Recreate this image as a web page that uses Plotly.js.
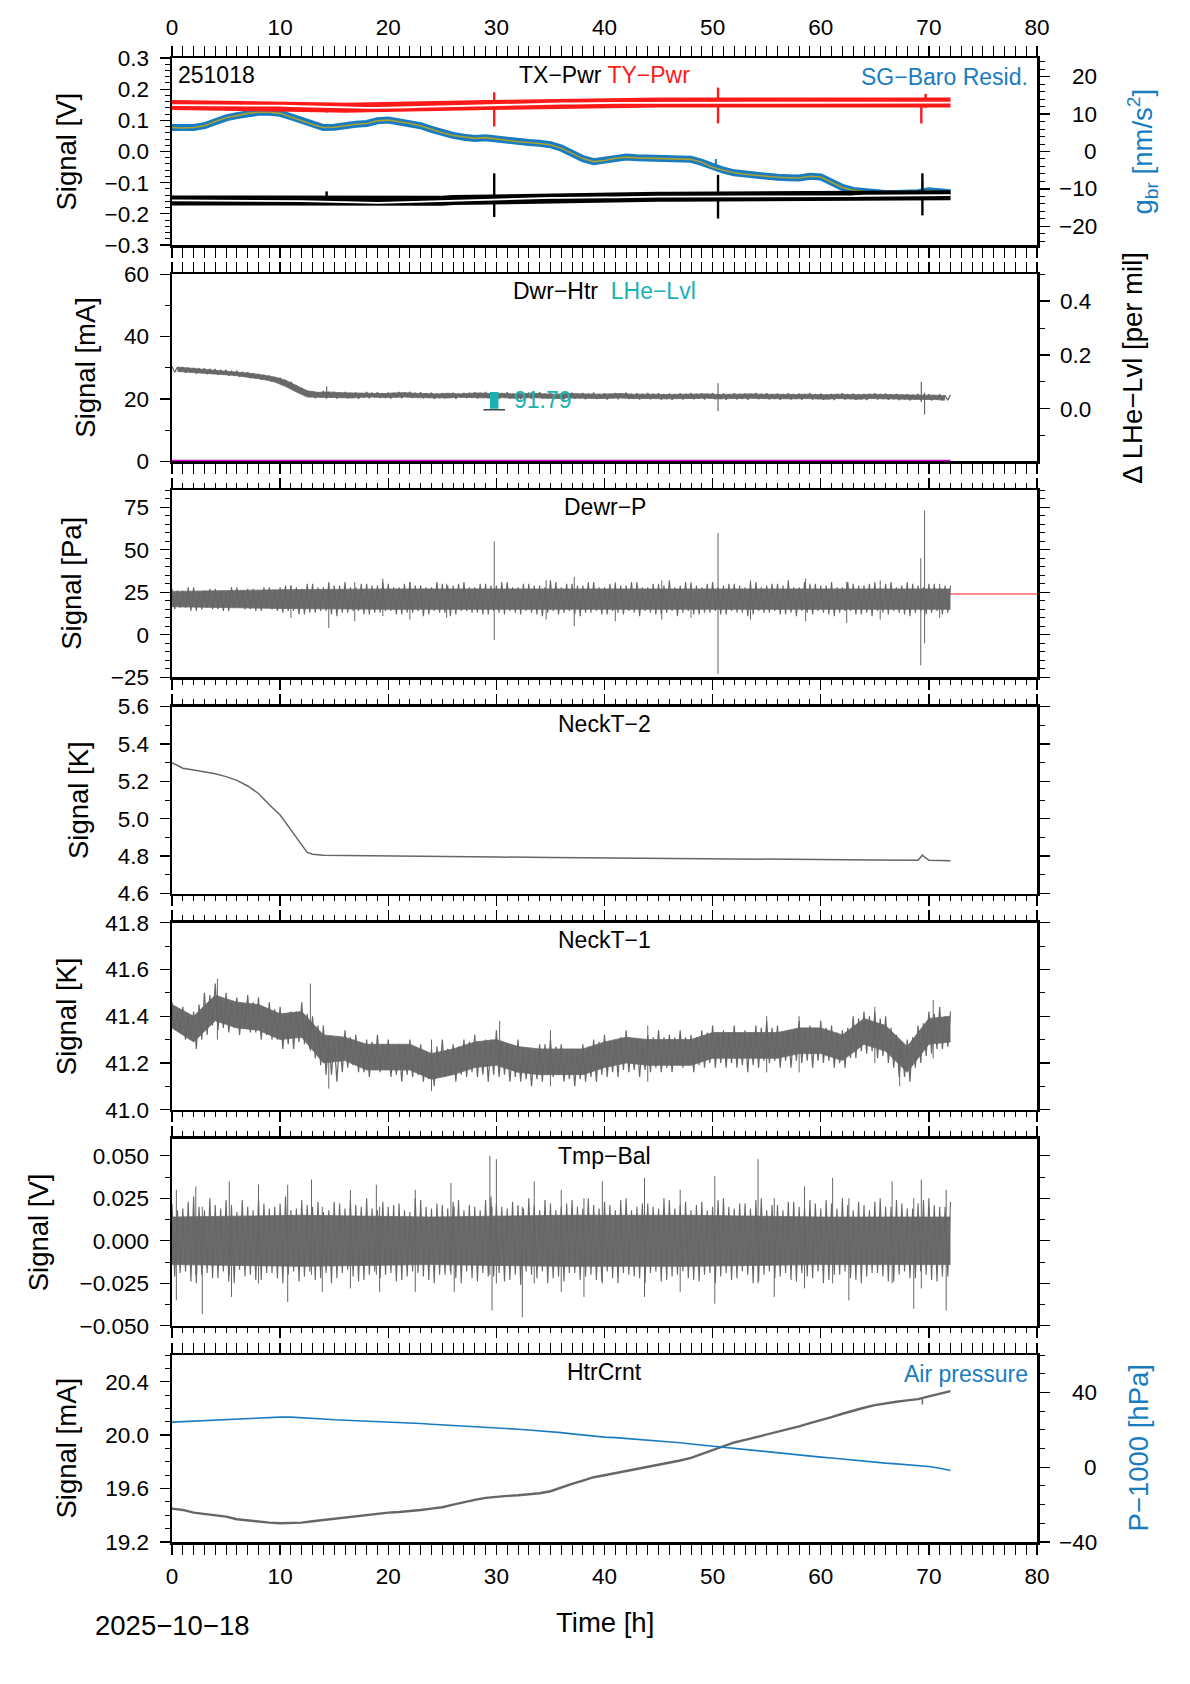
<!DOCTYPE html>
<html><head><meta charset="utf-8">
<script src="https://cdn.plot.ly/plotly-3.0.1.min.js"></script>
<style>body{margin:0;background:#fff}#plot{width:1190px;height:1684px}</style>
</head><body><div id="plot"></div>
<script>
// ---------------- data ----------------
const hours = [0,1,2,3,4,5,6,7,8,9,10,11,12,13,14,15,16,17,18,19,20,21,22,23,24,25,26,27,28,29,30,31,32,33,34,35,36,37,38,39,40,41,42,43,44,45,46,47,48,49,50,51,52,53,54,55,56,57,58,59,60,61,62,63,64,65,66,67,68,69,70,71,72];

// Panel 1: TX-Pwr / TY-Pwr [V], SG-Baro residual [nm/s^2]
const tyPwr = [0.149,0.149,0.149,0.149,0.149,0.149,0.148,0.148,0.148,0.147,0.147,0.146,0.145,0.143,0.142,0.141,0.140,0.140,0.140,0.140,0.140,0.141,0.142,0.143,0.144,0.145,0.146,0.147,0.148,0.149,0.150,0.151,0.151,0.152,0.152,0.153,0.154,0.154,0.155,0.155,0.155,0.156,0.156,0.156,0.156,0.157,0.157,0.157,0.157,0.157,0.157,0.158,0.158,0.158,0.158,0.158,0.158,0.158,0.158,0.158,0.158,0.158,0.157,0.157,0.157,0.157,0.157,0.157,0.157,0.157,0.157,0.157,0.157];
const txPwr = [-0.157,-0.157,-0.157,-0.157,-0.157,-0.157,-0.157,-0.157,-0.157,-0.157,-0.157,-0.158,-0.159,-0.160,-0.161,-0.163,-0.164,-0.165,-0.165,-0.165,-0.164,-0.163,-0.162,-0.160,-0.159,-0.158,-0.156,-0.155,-0.154,-0.153,-0.152,-0.151,-0.151,-0.150,-0.150,-0.149,-0.149,-0.148,-0.148,-0.148,-0.147,-0.147,-0.146,-0.146,-0.146,-0.145,-0.145,-0.145,-0.145,-0.145,-0.145,-0.144,-0.144,-0.144,-0.144,-0.144,-0.144,-0.144,-0.144,-0.144,-0.144,-0.143,-0.143,-0.143,-0.142,-0.142,-0.142,-0.142,-0.141,-0.141,-0.141,-0.140,-0.140];
const sgBaro = [6.4,6.3,6.4,6.9,8.0,9.0,9.6,10.2,10.5,10.5,10.2,9.3,8.2,7.2,6.4,6.5,7.0,7.3,7.5,8.2,8.4,8.0,7.5,6.9,5.9,5.0,4.3,3.8,3.5,3.7,3.3,2.8,2.6,2.4,2.2,1.8,0.9,-0.5,-1.9,-2.7,-2.4,-1.8,-1.5,-1.7,-1.8,-1.9,-2.0,-2.0,-2.1,-2.9,-4.2,-5.0,-5.7,-6.1,-6.4,-6.7,-6.9,-7.0,-7.1,-6.6,-6.8,-8.2,-9.6,-10.4,-10.8,-11.0,-11.2,-11.2,-11.3,-11.0,-10.5,-10.8,-11.0];
const gbrTicks = [-20,-10,0,10,20];
// spikes: [time h, top, bottom]
const tySpikes = [[14.3,0.150,0.125],[29.8,0.190,0.080],[50.5,0.205,0.090],[69.3,0.150,0.090],[69.7,0.185,0.140]];
const txSpikes = [[14.3,-0.128,-0.160],[29.8,-0.070,-0.210],[50.5,-0.075,-0.215],[69.4,-0.070,-0.205]];
const sgSpikes = [[50.3,-2.0,-5.0],[69.4,-8.0,-11.0]];

// Panel 2: Dwr-Htr [mA], LHe-Lvl [per mil]
const dwrHi  = [30.5,30.2,30.0,29.8,29.6,29.3,29.0,28.5,28.0,27.5,26.8,25.5,23.5,22.4,22.5,22.3,22.2,22.0,22.2,22.1,22.0,22.2,22.3,22.1,22.0,21.9,22.0,21.9,22.1,22.2,22.0,22.1,21.9,22.0,22.1,21.9,21.8,22.0,21.9,22.0,21.8,21.9,22.0,21.8,21.9,21.8,21.7,21.8,21.9,21.8,21.9,21.7,21.8,21.7,21.9,21.8,21.7,21.8,21.7,21.8,21.7,21.6,21.8,21.7,21.6,21.8,21.7,21.6,21.5,21.6,21.5,21.5,21.3];
const dwrHiH = [30.2,29.9,29.7,29.5,29.2,28.9,28.6,28.1,27.6,27.0,26.0,24.4,22.6,22.1,22.2,22.0,21.9,21.8,21.9,21.7,21.9,22.0,21.8,21.7,21.6,21.8,21.6,21.8,21.9,21.7,21.8,21.6,21.7,21.8,21.6,21.5,21.7,21.6,21.7,21.5,21.6,21.7,21.5,21.6,21.5,21.4,21.5,21.6,21.5,21.6,21.4,21.5,21.4,21.6,21.5,21.4,21.5,21.4,21.5,21.4,21.3,21.5,21.4,21.3,21.5,21.4,21.3,21.2,21.3,21.2,21.2,21.0];
const dwrLoA = [28.5,28.3,28.1,27.9,27.7,27.4,27.1,26.6,26.1,25.5,24.6,23.2,21.2,20.2,20.3,20.1,20.2,20.0,20.2,20.3,20.1,20.2,20.3,20.2,20.0,20.1,20.0,20.2,20.1,20.2,20.0,20.1,19.9,20.0,20.1,19.9,19.8,20.0,19.9,20.0,19.8,19.9,20.0,19.8,19.9,19.8,19.7,19.8,19.9,19.8,19.9,19.7,19.8,19.7,19.9,19.8,19.7,19.8,19.7,19.8,19.7,19.6,19.8,19.7,19.6,19.8,19.7,19.6,19.5,19.6,19.5,19.5];
const dwrLoB = [28.8,28.6,28.4,28.2,27.9,27.6,27.2,26.7,26.2,25.4,24.0,22.2,20.6,20.5,20.4,20.5,20.3,20.5,20.6,20.4,20.5,20.6,20.4,20.3,20.4,20.3,20.5,20.4,20.5,20.3,20.4,20.2,20.3,20.4,20.2,20.1,20.3,20.2,20.3,20.1,20.2,20.3,20.1,20.2,20.1,20.0,20.1,20.2,20.1,20.2,20.0,20.1,20.0,20.2,20.1,20.0,20.1,20.0,20.1,20.0,19.9,20.1,20.0,19.9,20.1,20.0,19.9,19.8,19.9,19.8,19.8,19.6];
const dwrSpikes = [[14.3,24.0,20.0],[50.5,25.0,16.0],[69.3,25.5,19.0],[69.6,22.0,15.0]];
const lheTime = [29.8], lheTop = [0.062], lheBottom = [0.0], lheLabel = ['91.79'];
const lheBase = [[28.8,30.8],[-0.004,-0.004]];
const heaterZero = [[0,72],[0,0]];
const lheTicks = [0.0,0.2,0.4];

// Panel 3: Dewr-P [Pa]
const dewHi  = [27,26,28,26,27,25,28,27,26,28,28,29,27,30,28,29,31,28,30,29,30,28,31,29,28,30,29,31,28,30,29,31,28,30,29,32,28,30,29,31,28,30,29,31,28,30,32,29,30,28,31,29,30,28,31,29,30,32,28,30,29,31,28,30,29,31,30,28,31,29,30,28,29];
const dewHiH = [26,28,25,27,26,28,26,27,28,26,29,28,30,28,31,29,28,30,29,31,28,30,29,28,31,29,30,28,30,29,31,28,30,29,28,31,30,29,31,28,30,29,31,28,30,29,28,31,29,30,28,30,29,31,28,30,29,28,31,30,29,28,31,29,30,28,31,29,30,28,30,29];
const dewLoA = [15,16,14,16,15,14,16,15,14,15,13,14,12,13,14,11,13,14,12,13,14,12,13,11,14,13,12,14,13,12,13,14,12,13,11,14,13,12,13,14,12,13,14,11,13,12,14,13,12,13,14,12,13,11,14,13,12,13,14,12,13,11,14,12,13,14,12,13,11,14,13,12];
const dewLoB = [16,14,15,15,14,16,15,14,16,14,14,12,13,14,12,13,14,12,13,14,12,13,14,12,13,11,14,13,12,14,12,13,14,12,13,12,14,11,13,12,14,12,13,14,12,13,11,14,12,13,12,14,13,12,13,14,12,11,13,14,12,13,14,12,11,13,14,12,13,12,14,13];
const dewCoreT = [0,10,20,30,40,50,60,72], dewCoreHi = [25.5,26.5,27,27,27,27,27,27], dewCoreLo = [16.5,15.5,15,15,15,15,15,15];
const dewSpikes = [[11,29,10],[14.5,26,4],[16.9,31,8],[19.5,33,11],[22,31,9],[25.4,30,10],[29.8,55,-3],[34.6,32,9],[37.2,34,5],[41,31,8],[45.3,32,9],[48,31,10],[50.5,60,-23],[53.5,32,9],[58.6,33,8],[62.4,31,7],[65.5,32,9],[69.25,45,-18],[69.6,73,-5],[71,30,10]];
const dewRef = [[0,80],[24,24]];

// Panel 4: NeckT-2 [K]
const neck2Time = [0,0.5,1,2,3,4,5,6,7,8,9,10,11,12,12.5,13,14,16,20,25,30,35,40,45,50,55,60,65,69,69.4,69.7,70,72];
const neck2 = [5.30,5.285,5.27,5.26,5.25,5.24,5.225,5.205,5.175,5.135,5.075,5.02,4.94,4.86,4.82,4.81,4.805,4.803,4.80,4.798,4.795,4.793,4.79,4.787,4.785,4.782,4.78,4.779,4.778,4.805,4.79,4.778,4.775];

// Panel 5: NeckT-1 [K]
const neck1Hi  = [41.46,41.44,41.42,41.50,41.54,41.50,41.48,41.49,41.48,41.46,41.44,41.42,41.46,41.40,41.36,41.30,41.34,41.32,41.30,41.32,41.30,41.28,41.30,41.28,41.26,41.30,41.28,41.30,41.32,41.30,41.34,41.28,41.30,41.26,41.28,41.30,41.28,41.26,41.28,41.30,41.32,41.30,41.34,41.30,41.32,41.34,41.32,41.34,41.32,41.34,41.36,41.34,41.36,41.34,41.36,41.38,41.36,41.34,41.38,41.36,41.38,41.36,41.34,41.40,41.42,41.42,41.40,41.32,41.30,41.36,41.42,41.44,41.42];
const neck1HiH = [41.42,41.40,41.45,41.49,41.47,41.46,41.45,41.46,41.44,41.43,41.40,41.42,41.41,41.36,41.31,41.30,41.31,41.28,41.29,41.28,41.27,41.27,41.26,41.25,41.27,41.26,41.27,41.29,41.28,41.30,41.29,41.27,41.26,41.25,41.28,41.27,41.25,41.26,41.27,41.29,41.29,41.31,41.30,41.29,41.31,41.31,41.31,41.31,41.31,41.33,41.33,41.33,41.33,41.33,41.35,41.35,41.33,41.34,41.35,41.35,41.35,41.33,41.35,41.39,41.40,41.39,41.35,41.29,41.31,41.37,41.41,41.40];
const neck1LoA = [41.34,41.30,41.26,41.32,41.34,41.33,41.32,41.33,41.30,41.30,41.26,41.26,41.28,41.22,41.15,41.12,41.18,41.16,41.14,41.16,41.14,41.12,41.14,41.12,41.10,41.14,41.12,41.14,41.14,41.12,41.14,41.12,41.12,41.10,41.12,41.14,41.12,41.10,41.12,41.12,41.14,41.14,41.16,41.14,41.16,41.16,41.16,41.18,41.16,41.18,41.18,41.18,41.18,41.16,41.18,41.20,41.18,41.18,41.20,41.18,41.20,41.18,41.18,41.22,41.24,41.22,41.20,41.14,41.12,41.20,41.24,41.26];
const neck1LoB = [41.33,41.30,41.30,41.36,41.35,41.35,41.35,41.33,41.32,41.30,41.28,41.29,41.26,41.19,41.15,41.16,41.19,41.16,41.17,41.17,41.15,41.15,41.15,41.13,41.14,41.15,41.15,41.16,41.15,41.15,41.15,41.14,41.13,41.13,41.15,41.15,41.13,41.13,41.14,41.15,41.16,41.17,41.17,41.17,41.18,41.18,41.19,41.19,41.19,41.20,41.20,41.20,41.19,41.19,41.21,41.21,41.21,41.21,41.21,41.21,41.21,41.20,41.22,41.25,41.25,41.23,41.18,41.14,41.18,41.23,41.26,41.27];
const neck1CoreT  = [0,2,4,6,8,10,12,14,16,18,20,22,24,26,28,30,32,34,36,38,40,42,44,46,48,50,52,54,56,58,60,62,64,66,68,70,72];
const neck1CoreHi = [41.45,41.40,41.49,41.46,41.45,41.41,41.42,41.32,41.31,41.28,41.28,41.28,41.24,41.26,41.29,41.30,41.27,41.26,41.26,41.26,41.29,41.31,41.30,41.30,41.30,41.33,41.33,41.33,41.33,41.35,41.35,41.32,41.39,41.36,41.27,41.39,41.40];
const neck1CoreLo = [41.35,41.29,41.38,41.35,41.34,41.30,41.31,41.20,41.21,41.17,41.17,41.17,41.13,41.15,41.18,41.19,41.16,41.15,41.15,41.15,41.18,41.20,41.19,41.19,41.19,41.22,41.22,41.22,41.22,41.24,41.24,41.21,41.28,41.25,41.16,41.28,41.29];
const neck1Spikes = [[4.2,41.56,41.30],[12.8,41.54,41.25],[14.5,41.30,41.09],[24,41.30,41.08],[30.3,41.38,41.16],[35,41.34,41.10],[44,41.36,41.12],[55,41.40,41.16],[58,41.40,41.16],[65,41.44,41.20],[67.3,41.30,41.10],[70.4,41.47,41.22]];

// Panel 6: Tmp-Bal [V]
const tmpHi  = [0.022,0.019,0.026,0.018,0.021,0.024,0.017,0.020,0.025,0.019,0.022,0.018,0.024,0.020,0.017,0.023,0.019,0.021,0.025,0.018,0.020,0.022,0.017,0.024,0.019,0.021,0.023,0.018,0.020,0.024,0.022,0.019,0.021,0.025,0.018,0.022,0.020,0.024,0.019,0.021,0.023,0.018,0.025,0.020,0.022,0.019,0.024,0.021,0.018,0.023,0.020,0.025,0.019,0.022,0.024,0.018,0.021,0.023,0.020,0.024,0.019,0.022,0.025,0.018,0.021,0.023,0.020,0.024,0.019,0.022,0.025,0.020,0.023];
const tmpHiH = [0.018,0.023,0.020,0.025,0.019,0.021,0.024,0.018,0.022,0.020,0.026,0.019,0.021,0.023,0.018,0.022,0.024,0.020,0.019,0.023,0.021,0.018,0.025,0.020,0.022,0.019,0.024,0.021,0.018,0.026,0.020,0.023,0.019,0.021,0.024,0.018,0.022,0.020,0.025,0.019,0.021,0.024,0.018,0.022,0.020,0.025,0.019,0.023,0.021,0.018,0.024,0.020,0.022,0.019,0.025,0.021,0.018,0.023,0.020,0.022,0.024,0.019,0.021,0.023,0.018,0.025,0.020,0.022,0.019,0.024,0.021,0.020];
const tmpLoA = [-0.021,-0.018,-0.025,-0.019,-0.022,-0.024,-0.017,-0.020,-0.023,-0.019,-0.025,-0.018,-0.021,-0.023,-0.019,-0.022,-0.017,-0.024,-0.020,-0.022,-0.019,-0.023,-0.018,-0.021,-0.025,-0.020,-0.022,-0.018,-0.024,-0.021,-0.019,-0.023,-0.026,-0.020,-0.018,-0.022,-0.024,-0.019,-0.021,-0.023,-0.018,-0.025,-0.020,-0.022,-0.019,-0.024,-0.021,-0.018,-0.023,-0.020,-0.025,-0.019,-0.022,-0.020,-0.024,-0.018,-0.021,-0.023,-0.019,-0.022,-0.025,-0.020,-0.018,-0.023,-0.021,-0.019,-0.024,-0.020,-0.022,-0.018,-0.023,-0.021];
const tmpLoB = [-0.019,-0.024,-0.020,-0.022,-0.018,-0.025,-0.021,-0.023,-0.019,-0.022,-0.020,-0.024,-0.018,-0.022,-0.025,-0.019,-0.021,-0.023,-0.018,-0.020,-0.024,-0.021,-0.019,-0.023,-0.020,-0.018,-0.025,-0.022,-0.019,-0.021,-0.024,-0.020,-0.018,-0.022,-0.025,-0.021,-0.019,-0.023,-0.020,-0.024,-0.022,-0.019,-0.021,-0.025,-0.018,-0.023,-0.020,-0.022,-0.024,-0.019,-0.021,-0.023,-0.018,-0.025,-0.020,-0.022,-0.019,-0.024,-0.021,-0.018,-0.023,-0.020,-0.022,-0.025,-0.019,-0.021,-0.024,-0.018,-0.022,-0.020,-0.024,-0.021];
const tmpCoreT = [0,12,24,36,48,60,72], tmpCoreHi = [0.014,0.015,0.014,0.015,0.015,0.014,0.014], tmpCoreLo = [-0.014,-0.015,-0.014,-0.015,-0.015,-0.014,-0.014];
const tmpSpikes = [[0.4,0.030,-0.035],[2.2,0.032,-0.020],[2.8,0.020,-0.043],[5.3,0.035,-0.020],[5.5,0.020,-0.033],[8,0.033,-0.025],[10.7,0.033,-0.036],[12.9,0.036,-0.020],[13.9,0.020,-0.030],[16.5,0.030,-0.028],[18.9,0.033,-0.020],[19.2,0.020,-0.030],[22.5,0.030,-0.030],[25.8,0.034,-0.020],[26.1,0.020,-0.030],[29.4,0.050,-0.020],[29.6,0.020,-0.041],[30,0.048,-0.025],[32.4,0.020,-0.045],[33.5,0.035,-0.025],[36,0.030,-0.030],[38.1,0.025,-0.033],[39.8,0.035,-0.025],[43.7,0.037,-0.033],[47,0.030,-0.030],[50.2,0.038,-0.037],[54.2,0.048,-0.025],[55.7,0.025,-0.033],[58.5,0.032,-0.028],[61.1,0.037,-0.025],[62.6,0.025,-0.035],[66.6,0.035,-0.025],[68.6,0.025,-0.040],[69.3,0.036,-0.028],[71.6,0.030,-0.041]];

// Panel 7: HtrCrnt [mA], air pressure P-1000 [hPa]
const htrCrnt = [19.45,19.44,19.42,19.41,19.40,19.39,19.37,19.36,19.35,19.345,19.34,19.34,19.345,19.355,19.365,19.37,19.38,19.39,19.40,19.41,19.42,19.425,19.43,19.44,19.45,19.46,19.48,19.50,19.515,19.53,19.54,19.545,19.55,19.555,19.565,19.58,19.61,19.635,19.66,19.685,19.70,19.715,19.73,19.75,19.765,19.775,19.79,19.81,19.83,19.86,19.89,19.92,19.945,19.965,19.985,20.0,20.02,20.04,20.065,20.09,20.11,20.135,20.16,20.185,20.205,20.225,20.24,20.25,20.26,20.27,20.29,20.31,20.33];
const htrSpikes = [[69.4,20.27,20.23]];
const airP = [24.1,24.4,24.7,25.0,25.3,25.6,25.9,26.2,26.5,26.7,26.8,26.8,26.6,26.2,25.8,25.4,25.2,25.0,24.8,24.5,24.3,24.0,23.7,23.4,23.0,22.7,22.3,22.0,21.6,21.2,20.9,20.6,20.3,19.9,19.5,19.1,18.5,17.8,17.2,16.6,16.1,15.8,15.4,15.0,14.7,14.3,13.7,13.1,12.4,11.8,11.1,10.5,9.9,9.2,8.6,8.0,7.5,7.0,6.4,5.9,5.4,4.9,4.3,3.8,3.2,2.7,2.2,1.8,1.3,0.9,0.4,-0.6,-1.8];
const airTicks = [-40,0,40];

// ---------------- styling / layout ----------------
const W = 1190, H = 1684, L = 172, R = 1037, PH = 187;
const tops = [58, 274.2, 490.3, 706.5, 922.7, 1138.8, 1355];
const FONT = 'Liberation Sans, Arial, Helvetica, sans-serif';
const TICK = 22.5, LAB = 23, TTL = 27.5;
const GRAY = '#666666', CORE = '#6c6c6c', RED = '#ff1a1a', BLUE = '#1a7cc0', OLIVE = '#a8a030', TEAL = '#1ab2b0', MAG = '#cc00cc';
const dom = i => [1 - (tops[i] + PH) / H, 1 - tops[i] / H];
const xn = i => i === 0 ? 'x' : 'x' + (i + 1);
const yn = i => i === 0 ? 'y' : 'y' + (i + 1);
const halfHours = hours.slice(0, 72).map(h => h + 0.5);

const traces = [];
function fillBand(x, lo, hi, xa, ya, color) {
  traces.push({x: x, y: lo, xaxis: xa, yaxis: ya, mode: 'lines', line: {color: color, width: 0.8}});
  traces.push({x: x, y: hi, xaxis: xa, yaxis: ya, mode: 'lines', line: {color: color, width: 0.8}, fill: 'tonexty', fillcolor: color});
}
// min/max noise trace: maxima at h and h+0.5, minima at h+0.25 and h+0.75
function noise(hiInt, hiHalf, loA, loB, xa, ya, color, width) {
  const x = [], y = [];
  for (let k = 0; k < hiHalf.length; k++) {
    x.push(hours[k], hours[k] + 0.25, hours[k] + 0.5, hours[k] + 0.75);
    y.push(hiInt[k], loA[k], hiHalf[k], loB[k]);
  }
  x.push(hours[hiHalf.length]); y.push(hiInt[hiHalf.length]);
  traces.push({x: x, y: y, xaxis: xa, yaxis: ya, mode: 'lines', line: {color: color, width: width}});
}
function spikes(list, xa, ya, color, width) {
  const x = [], y = [];
  list.forEach(s => { x.push(s[0], s[0], null); y.push(s[1], s[2], null); });
  traces.push({x: x, y: y, xaxis: xa, yaxis: ya, mode: 'lines', line: {color: color, width: width}, connectgaps: false});
}
function line(x, y, xa, ya, color, width) {
  traces.push({x: x, y: y, xaxis: xa, yaxis: ya, mode: 'lines', line: {color: color, width: width}});
}

// Panel 1 (base axis y = right side nm/s^2 ; y8 = left side V, overlaying -> drawn on top)
line(hours, sgBaro, 'x', 'y', BLUE, 7);
spikes(sgSpikes, 'x', 'y', BLUE, 2);
line(hours, sgBaro, 'x', 'y', OLIVE, 1.6);
line(hours, tyPwr, 'x', 'y8', RED, 10);
spikes(tySpikes, 'x', 'y8', RED, 2.4);
line(hours, tyPwr, 'x', 'y8', '#ffffff', 1.8);
line(hours, txPwr, 'x', 'y8', '#000000', 10);
spikes(txSpikes, 'x', 'y8', '#000000', 2.4);
line(hours, txPwr, 'x', 'y8', '#ffffff', 1.8);

// Panel 2
fillBand(halfHours, dwrLoB, dwrHiH, 'x2', 'y2', CORE);
noise(dwrHi, dwrHiH, dwrLoA, dwrLoB, 'x2', 'y2', GRAY, 1.2);
spikes(dwrSpikes, 'x2', 'y2', GRAY, 1.2);
spikes([[lheTime[0], lheTop[0], lheBottom[0]]], 'x2', 'y9', TEAL, 8.5);
line(lheBase[0], lheBase[1], 'x2', 'y9', '#444444', 1.6);

// Panel 3
line(dewRef[0], dewRef[1], 'x3', 'y3', RED, 1.2);
fillBand(dewCoreT, dewCoreLo, dewCoreHi, 'x3', 'y3', CORE);
noise(dewHi, dewHiH, dewLoA, dewLoB, 'x3', 'y3', GRAY, 1.1);
spikes(dewSpikes, 'x3', 'y3', GRAY, 1);

// Panel 4
line(neck2Time, neck2, 'x4', 'y4', GRAY, 1.5);

// Panel 5
fillBand(neck1CoreT, neck1CoreLo, neck1CoreHi, 'x5', 'y5', CORE);
noise(neck1Hi, neck1HiH, neck1LoA, neck1LoB, 'x5', 'y5', GRAY, 1.2);
spikes(neck1Spikes, 'x5', 'y5', GRAY, 1);

// Panel 6
fillBand(tmpCoreT, tmpCoreLo, tmpCoreHi, 'x6', 'y6', CORE);
noise(tmpHi, tmpHiH, tmpLoA, tmpLoB, 'x6', 'y6', GRAY, 1.1);
spikes(tmpSpikes, 'x6', 'y6', GRAY, 1);

// Panel 7
line(hours, htrCrnt, 'x7', 'y7', GRAY, 2.4);
spikes(htrSpikes, 'x7', 'y7', GRAY, 1.5);
line(hours, airP, 'x7', 'y10', BLUE, 1.6);

traces.forEach(t => { t.showlegend = false; t.hoverinfo = 'skip'; });

const tickfont = {family: FONT, size: TICK, color: '#000'};
const minor = d => ({dtick: d, ticklen: 5, tickwidth: 1, ticks: 'outside', tickcolor: '#000'});
const layout = {
  width: W, height: H, margin: {l: 0, r: 0, t: 0, b: 0},
  paper_bgcolor: '#fff', plot_bgcolor: '#fff', showlegend: false,
  font: {family: FONT, color: '#000'},
  annotations: [], shapes: []
};
for (let i = 0; i < 7; i++) {
  layout[i === 0 ? 'xaxis' : 'xaxis' + (i + 1)] = {
    domain: [L / W, R / W], anchor: yn(i), range: [0, 80], dtick: 10, tick0: 0,
    ticks: 'outside', ticklen: 10, tickwidth: 1.3, tickcolor: '#000', minor: minor(1),
    showline: true, linewidth: 2.5, linecolor: '#000', mirror: 'allticks',
    showgrid: false, zeroline: false,
    showticklabels: i === 0 || i === 6, side: i === 0 ? 'top' : 'bottom',
    tickfont: tickfont, ticklabelstandoff: 2, fixedrange: true
  };
}
const yBase = (i, o) => Object.assign({
  domain: dom(i), anchor: xn(i), ticks: 'outside', ticklen: 10, tickwidth: 1.3, tickcolor: '#000',
  showline: true, linewidth: 2.5, linecolor: '#000', mirror: 'allticks', showgrid: false, zeroline: false,
  tickfont: tickfont, ticklabelstandoff: 6, fixedrange: true
}, o);
layout.yaxis = yBase(0, {range: [-25, 25], tickvals: gbrTicks, side: 'right', mirror: false, showticklabels: false, minor: minor(2)});
layout.yaxis8 = yBase(0, {overlaying: 'y', side: 'left', range: [-0.3, 0.3], dtick: 0.1, tickformat: '.1f', mirror: false, minor: minor(0.02)});
layout.yaxis2 = yBase(1, {range: [0, 60], dtick: 20, mirror: false, minor: minor(10)});
layout.yaxis9 = yBase(1, {overlaying: 'y2', side: 'right', range: [-0.195, 0.5], tickvals: lheTicks, tickformat: '.1f', mirror: false, minor: minor(0.1)});
layout.yaxis3 = yBase(2, {range: [-25, 85], dtick: 25, tick0: 0, minor: minor(5)});
layout.yaxis4 = yBase(3, {range: [4.6, 5.6], dtick: 0.2, tick0: 4.6, tickformat: '.1f', minor: minor(0.1)});
layout.yaxis5 = yBase(4, {range: [41.0, 41.8], dtick: 0.2, tick0: 41, tickformat: '.1f', minor: minor(0.1)});
layout.yaxis6 = yBase(5, {range: [-0.05, 0.06], dtick: 0.025, tick0: 0, tickformat: '.3f', minor: minor(0.0125)});
layout.yaxis7 = yBase(6, {range: [19.2, 20.6], dtick: 0.4, tick0: 19.2, tickformat: '.1f', mirror: false, minor: minor(0.1)});
layout.yaxis10 = yBase(6, {overlaying: 'y7', side: 'right', range: [-40, 60], tickvals: airTicks, mirror: false, showticklabels: false, minor: minor(10)});

// magenta zero line of the heater panel (drawn above the axis line)
layout.shapes.push({type: 'line', xref: 'x2', yref: 'y2', x0: heaterZero[0][0], x1: heaterZero[0][1], y0: heaterZero[1][0], y1: heaterZero[1][1],
  line: {color: MAG, width: 3}, layer: 'above'});

const A = layout.annotations;
const midY = i => 1 - (tops[i] + PH / 2) / H;
const topY = i => 1 - tops[i] / H;
const cx = (L + R) / 2 / W;
const fmt = v => (v < 0 ? '−' : '') + Math.abs(v);
function ann(o) { A.push(Object.assign({xref: 'paper', yref: 'paper', showarrow: false, font: {family: FONT, size: LAB, color: '#000'}}, o)); }
// right-aligned tick labels of the right axes (panel 1 and 7)
gbrTicks.forEach(v => ann({text: fmt(v), x: 1099 / W, yref: 'y', y: v, xanchor: 'right', yanchor: 'middle', font: {family: FONT, size: TICK, color: '#000'}}));
airTicks.forEach(v => ann({text: fmt(v), x: 1099 / W, yref: 'y10', y: v, xanchor: 'right', yanchor: 'middle', font: {family: FONT, size: TICK, color: '#000'}}));
// LHe label
ann({text: lheLabel[0], xref: 'x2', yref: 'y9', x: lheTime[0], y: (lheTop[0] + lheBottom[0]) / 2, xanchor: 'left', yanchor: 'middle', xshift: 18, font: {family: FONT, size: LAB, color: TEAL}});
// axis titles
const leftTitles = [['Signal [V]', 66], ['Signal [mA]', 86], ['Signal [Pa]', 72], ['Signal [K]', 78], ['Signal [K]', 66], ['Signal [V]', 38], ['Signal [mA]', 66]];
leftTitles.forEach((t, i) => ann({text: t[0], x: t[1] / W, y: midY(i), textangle: -90, xanchor: 'center', yanchor: 'middle', font: {family: FONT, size: TTL, color: '#000'}}));
ann({text: 'g<sub>br</sub> [nm/s<sup>2</sup>]', x: 1143 / W, y: midY(0), textangle: -90, xanchor: 'center', yanchor: 'middle', font: {family: FONT, size: TTL, color: BLUE}});
ann({text: 'Δ LHe−Lvl [per mil]', x: 1133 / W, y: midY(1), textangle: -90, xanchor: 'center', yanchor: 'middle', font: {family: FONT, size: TTL, color: '#000'}});
ann({text: 'P−1000 [hPa]', x: 1138 / W, y: midY(6), textangle: -90, xanchor: 'center', yanchor: 'middle', font: {family: FONT, size: TTL, color: BLUE}});
// panel labels
ann({text: '251018', x: 176 / W, y: topY(0), xanchor: 'left', yanchor: 'top', yshift: -2});
ann({text: 'TX−Pwr <span style="color:' + RED + '">TY−Pwr</span>', x: cx, y: topY(0), xanchor: 'center', yanchor: 'top', yshift: -2});
ann({text: 'SG−Baro Resid.', x: 1030 / W, y: topY(0), xanchor: 'right', yanchor: 'top', yshift: -4, font: {family: FONT, size: LAB, color: BLUE}});
ann({text: 'Dwr−Htr  <span style="color:' + TEAL + '">LHe−Lvl</span>', x: cx, y: topY(1), xanchor: 'center', yanchor: 'top', yshift: -2});
['Dewr−P', 'NeckT−2', 'NeckT−1', 'Tmp−Bal', 'HtrCrnt'].forEach((s, k) => ann({text: s, x: cx, y: topY(k + 2), xanchor: 'center', yanchor: 'top', yshift: -2}));
ann({text: 'Air pressure', x: 1030 / W, y: topY(6), xanchor: 'right', yanchor: 'top', yshift: -4, font: {family: FONT, size: LAB, color: BLUE}});
// bottom texts
ann({text: 'Time [h]', x: cx, y: 1 - 1622 / H, xanchor: 'center', yanchor: 'middle', font: {family: FONT, size: TTL, color: '#000'}});
ann({text: '2025−10−18', x: 172 / W, y: 1 - 1625 / H, xanchor: 'center', yanchor: 'middle', font: {family: FONT, size: TTL, color: '#000'}});

Plotly.newPlot('plot', traces, layout, {staticPlot: true, displayModeBar: false});
</script>
</body></html>
